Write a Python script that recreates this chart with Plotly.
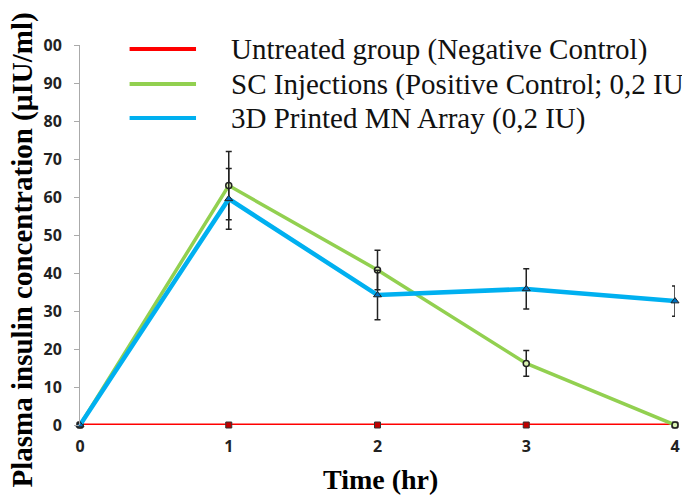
import plotly.graph_objects as go

time_hr = [0, 1, 2, 3, 4]
untreated = [0, 0, 0, 0, 0]
sc_inj = [0, 63, 40.8, 16.2, 0]
sc_err = [0, 9, 5.2, 3.4, 0]
mn_array = [0, 59.5, 34.2, 35.8, 32.6]
mn_err = [0, 8, 6.5, 5.3, 4]
y_ticks = [0, 10, 20, 30, 40, 50, 60, 70, 80, 90, 100]
y_ticktext = ["0", "10", "20", "30", "40", "50", "60", "70", "80", "90", "00"]
x_ticks = [0, 1, 2, 3, 4]

legend_names = ["Untreated group (Negative Control)",
                "SC Injections (Positive Control; 0,2 IU)",
                "3D Printed MN Array (0,2 IU)"]
colors = ["#FF0000", "#92D050", "#00B0F0"]

# page offset (body margin) = 8px; plot area: x 80..680, y 45..425 in page pixels
OFF = 8
PL, PR, PT, PB = 80, 680, 45, 425
W, H = 690 - OFF, 495 - OFF


def px(xp):
    return (xp - PL) / (PR - PL)


def py(yp):
    return (PB - yp) / (PB - PT)


fig = go.Figure()
fig.add_trace(go.Scatter(x=time_hr, y=untreated, mode="lines+markers", name=legend_names[0],
                         line=dict(color=colors[0], width=3),
                         marker=dict(symbol="square", size=6, color="#c00000", line=dict(color="#333", width=1)),
                         cliponaxis=False))
fig.add_trace(go.Scatter(x=time_hr, y=sc_inj, mode="lines+markers", name=legend_names[1],
                         line=dict(color=colors[1], width=3.5),
                         marker=dict(symbol="circle", size=6, color="#d8f0b0", line=dict(color="#222", width=1.5)),
                         error_y=dict(type="data", array=sc_err, color="#222", thickness=1.5, width=3),
                         cliponaxis=False))
fig.add_trace(go.Scatter(x=time_hr, y=mn_array, mode="lines+markers", name=legend_names[2],
                         line=dict(color=colors[2], width=4.5),
                         marker=dict(symbol="triangle-up", size=7, color="#0070c0", line=dict(color="#222", width=1)),
                         error_y=dict(type="data", array=mn_err, color="#222", thickness=1.5, width=3),
                         cliponaxis=False))

# manual legend
legend_y = [49, 84, 118]
shapes = []
annotations = []
for i in range(3):
    shapes.append(dict(type="line", xref="paper", yref="paper",
                       x0=px(130), x1=px(197),
                       y0=py(legend_y[i]), y1=py(legend_y[i]),
                       line=dict(color=colors[i], width=4)))
    annotations.append(dict(xref="paper", yref="paper", x=px(230), y=py(legend_y[i]),
                            xanchor="left", yanchor="middle", showarrow=False,
                            text=legend_names[i],
                            font=dict(family="Liberation Serif", size=29, color="#111")))

annotations.append(dict(xref="paper", yref="paper", x=px(22), y=py(250),
                        xanchor="center", yanchor="middle", showarrow=False, textangle=-90,
                        text="<b>Plasma insulin concentration (µIU/ml)</b>",
                        font=dict(family="Liberation Serif", size=29, color="#000")))
annotations.append(dict(xref="paper", yref="paper", x=px(383), y=py(479),
                        xanchor="center", yanchor="middle", showarrow=False,
                        text="<b>Time (hr)</b>",
                        font=dict(family="Liberation Serif", size=28, color="#000")))

fig.update_layout(
    width=W, height=H,
    margin=dict(l=PL - OFF, r=W + OFF - PR, t=PT - OFF, b=H + OFF - PB),
    paper_bgcolor="white", plot_bgcolor="white",
    showlegend=False,
    shapes=shapes, annotations=annotations,
    xaxis=dict(range=[0, 4], tickvals=x_ticks, showgrid=False, zeroline=False,
               showline=False, ticks="", ticklen=0, ticklabelstandoff=10,
               tickfont=dict(family="Open Sans", size=16, color="#222", weight="bold")),
    yaxis=dict(range=[0, 100], tickvals=y_ticks, ticktext=y_ticktext, showgrid=False, zeroline=False,
               showline=True, linecolor="#aaa", linewidth=1, ticks="outside", ticklen=5, tickcolor="#aaa",
               ticklabelstandoff=9,
               tickfont=dict(family="Open Sans", size=16, color="#222", weight="bold")),
)

fig.write_html("out.html")
